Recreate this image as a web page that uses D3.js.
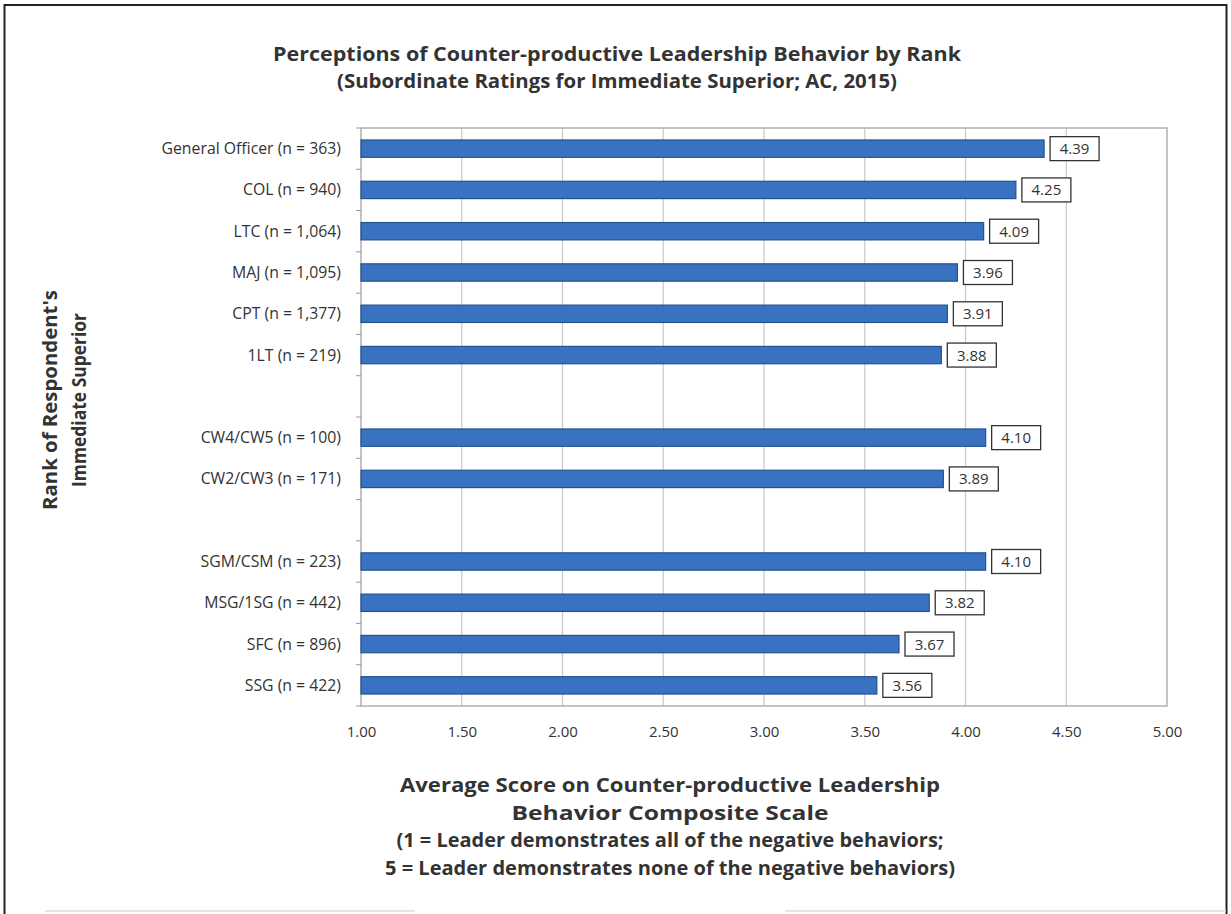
<!DOCTYPE html>
<html><head><meta charset="utf-8">
<script src="https://cdn.jsdelivr.net/npm/d3@7"></script>
<style>body{margin:0;background:#fff;} text{font-family:"Open Sans","Noto Sans",sans-serif;}</style>
</head><body><svg id="c" width="1231" height="914"></svg>
<script>
const categories = ["General Officer (n = 363)","COL (n = 940)","LTC (n = 1,064)","MAJ (n = 1,095)","CPT (n = 1,377)","1LT (n = 219)","","CW4/CW5 (n = 100)","CW2/CW3 (n = 171)"," ","SGM/CSM (n = 223)","MSG/1SG (n = 442)","SFC (n = 896)","SSG (n = 422)"];
const values = [4.39,4.25,4.09,3.96,3.91,3.88,null,4.10,3.89,null,4.10,3.82,3.67,3.56];
const xTicks = [1.0,1.5,2.0,2.5,3.0,3.5,4.0,4.5,5.0];
const titleLines = ["Perceptions of Counter-productive Leadership Behavior by Rank","(Subordinate Ratings for Immediate Superior; AC, 2015)"];
const yTitleLines = ["Rank of Respondent's","Immediate Superior"];
const xTitleLines = ["Average Score on Counter-productive Leadership","Behavior Composite Scale","(1 = Leader demonstrates all of the negative behaviors;","5 = Leader demonstrates none of the negative behaviors)"];

const svg = d3.select("#c");
const L=361, R=1167, T=128, B=706;
const x = d3.scaleLinear().domain([1,5]).range([L,R]);
const y = d3.scaleBand().domain(categories).range([T,B]).paddingInner(0.58).paddingOuter(0.29);

// outer frame
svg.append("rect").attr("x",4.5).attr("y",5).attr("width",1222).attr("height",930).attr("fill","none").attr("stroke","#222").attr("stroke-width",2);
// faint bottom lines
svg.append("line").attr("x1",45).attr("x2",415).attr("y1",911).attr("y2",911).attr("stroke","#ddd").attr("stroke-width",1.5);
svg.append("line").attr("x1",785).attr("x2",1226).attr("y1",911).attr("y2",911).attr("stroke","#ddd").attr("stroke-width",1.5);

// titles
svg.selectAll("text.title").data(titleLines).join("text").attr("class","title")
  .attr("x",617).attr("y",(d,i)=>61+i*27).attr("text-anchor","middle")
  .attr("font-size",19).attr("font-weight","bold").attr("fill","#333")
  .attr("textLength",(d,i)=>i===0?688:560).attr("lengthAdjust","spacingAndGlyphs").text(d=>d);

// gridlines
svg.append("g").selectAll("line").data(xTicks.slice(1,-1)).join("line")
  .attr("x1",d=>x(d)).attr("x2",d=>x(d)).attr("y1",T).attr("y2",B)
  .attr("stroke","#c8c8c8").attr("stroke-width",1.2);

// plot frame
svg.append("rect").attr("x",L).attr("y",T).attr("width",R-L).attr("height",B-T).attr("fill","none").attr("stroke","#b0b0b0").attr("stroke-width",1.5);

// y axis ticks (category boundaries)
const step = y.step();
svg.append("g").selectAll("line").data(d3.range(categories.length+1)).join("line")
  .attr("x1",L-5).attr("x2",L).attr("y1",i=>T+i*step).attr("y2",i=>T+i*step)
  .attr("stroke","#999");

// bars
const data = categories.map((c,i)=>({c,v:values[i]})).filter(d=>d.v!=null);
svg.append("g").selectAll("rect").data(data).join("rect")
  .attr("x",x(1)).attr("y",d=>y(d.c)).attr("width",d=>x(d.v)-x(1)).attr("height",y.bandwidth())
  .attr("fill","#3a72c2").attr("stroke","#24528f").attr("stroke-width",1.2);

// value labels
const lg = svg.append("g").selectAll("g").data(data).join("g")
  .attr("transform",d=>`translate(${x(d.v)+6},${y(d.c)+y.bandwidth()/2})`);
lg.append("rect").attr("x",0).attr("y",-12).attr("width",49).attr("height",24).attr("fill","#fff").attr("stroke","#333").attr("stroke-width",1.3);
lg.append("text").attr("x",24.5).attr("y",5.5).attr("text-anchor","middle").attr("font-size",15).attr("fill","#333").text(d=>d.v.toFixed(2));

// y labels
svg.append("g").selectAll("text").data(categories.filter(c=>c.trim()!=="")).join("text")
  .attr("x",341).attr("y",d=>y(d)+y.bandwidth()/2+5.5).attr("text-anchor","end")
  .attr("font-size",15.8).attr("fill","#333").text(d=>d);

// x axis labels
const xa = svg.append("g").attr("transform",`translate(0,${B})`).call(d3.axisBottom(x).tickValues(xTicks).tickFormat(d3.format(".2f")).tickSize(0).tickPadding(20));
xa.select(".domain").remove();
xa.selectAll("text").attr("font-size",15).attr("fill","#333").attr("font-family","'Open Sans',sans-serif");

// y title
const yTitleLen = [220,174];
svg.append("g").attr("transform","translate(0,400) rotate(-90)").selectAll("text").data(yTitleLines).join("text")
  .attr("x",0).attr("y",(d,i)=>57+i*29).attr("text-anchor","middle")
  .attr("font-size",19).attr("font-weight","bold").attr("fill","#333")
  .attr("textLength",(d,i)=>yTitleLen[i]).attr("lengthAdjust","spacingAndGlyphs").text(d=>d);

// x title
const xTitleLen = [540,317,547,570];
svg.selectAll("text.xt").data(xTitleLines).join("text").attr("class","xt")
  .attr("x",670).attr("y",(d,i)=>792+i*27.5).attr("text-anchor","middle")
  .attr("font-size",19).attr("font-weight","bold").attr("fill","#333")
  .attr("textLength",(d,i)=>xTitleLen[i]).attr("lengthAdjust","spacingAndGlyphs").text(d=>d);
</script></body></html>
